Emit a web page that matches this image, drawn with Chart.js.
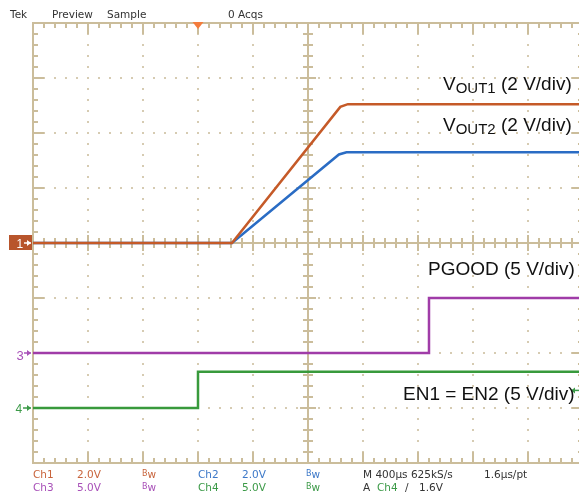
<!DOCTYPE html>
<html>
<head>
<meta charset="utf-8">
<script src="https://cdn.jsdelivr.net/npm/chart.js@4"></script>
<style>
  body { margin: 0; background: #fff; }
  #wrap { position: relative; width: 579px; height: 502px; overflow: hidden; }
  #scope { position: absolute; left: 0; top: 0; }
  .t { position: absolute; white-space: nowrap; line-height: 1; }
  .s { font-family: "DejaVu Sans", sans-serif; font-size: 10.5px; color: #333; }
  .lbl { font-family: "Liberation Sans", Arial, sans-serif; font-size: 19px; color: #111; }
  .lbl sub { font-size: 15px; vertical-align: -3px; line-height: 1; }
  .bw b { font-weight: normal; font-size: 8px; vertical-align: 2px; }
  .c1 { color: #c8643c; } .c2 { color: #3c78c8; } .c3 { color: #a850b8; } .c4 { color: #3c9a48; }
  .mk { font-family: "Liberation Sans", Arial, sans-serif; }
</style>
</head>
<body>
<div id="wrap">
  <canvas id="scope" width="579" height="502"></canvas>

  <!-- header -->
  <div class="t s" style="left:10px;top:9px">Tek</div>
  <div class="t s" style="left:52px;top:9px">Preview</div>
  <div class="t s" style="left:107px;top:9px">Sample</div>
  <div class="t s" style="left:228px;top:9px">0 Acqs</div>

  <!-- trace labels -->
  <div class="t lbl" style="left:443px;top:73.5px">V<sub>OUT1</sub> (2 V/div)</div>
  <div class="t lbl" style="left:443px;top:115px">V<sub>OUT2</sub> (2 V/div)</div>
  <div class="t lbl" style="left:428px;top:259px">PGOOD (5 V/div)</div>
  <div class="t lbl" style="left:403px;top:384px">EN1 = EN2 (5 V/div)</div>

  <!-- channel markers -->
  <div class="t mk" style="left:16.5px;top:238px;font-size:12px;color:#fff">1</div>
  <div class="t mk c3" style="left:16.5px;top:348.5px;font-size:13px">3</div>
  <div class="t mk c4" style="left:15.5px;top:403px;font-size:12px">4</div>

  <!-- status bar -->
  <div class="t s c1" style="left:33px;top:469px">Ch1</div>
  <div class="t s c1" style="left:77px;top:469px">2.0V</div>
  <div class="t s c1 bw" style="left:142px;top:469px"><b>B</b>w</div>
  <div class="t s c2" style="left:198px;top:469px">Ch2</div>
  <div class="t s c2" style="left:242px;top:469px">2.0V</div>
  <div class="t s c2 bw" style="left:306px;top:469px"><b>B</b>w</div>
  <div class="t s" style="left:363px;top:469px">M 400µs 625kS/s</div>
  <div class="t s" style="left:484px;top:469px">1.6µs/pt</div>

  <div class="t s c3" style="left:33px;top:482px">Ch3</div>
  <div class="t s c3" style="left:77px;top:482px">5.0V</div>
  <div class="t s c3 bw" style="left:142px;top:482px"><b>B</b>w</div>
  <div class="t s c4" style="left:198px;top:482px">Ch4</div>
  <div class="t s c4" style="left:242px;top:482px">5.0V</div>
  <div class="t s c4 bw" style="left:306px;top:482px"><b>B</b>w</div>
  <div class="t s" style="left:363px;top:482px">A</div>
  <div class="t s c4" style="left:377px;top:482px">Ch4</div>
  <div class="t s" style="left:405px;top:482px">/</div>
  <div class="t s" style="left:419px;top:482px">1.6V</div>
</div>

<script>
// time base: 400 us per division, screen starts at t = 0 (left graticule edge)
const DIV_US = 400;
const T_VISIBLE = 3971;   // right edge of the photo cuts the last division

// Ch1  VOUT1, 2 V/div, ground at center
const ch1Time  = [0, 1447, 2235, 2290, 3971];
const ch1Volts = [0, 0, 4.95, 5.05, 5.05];

// Ch2  VOUT2, 2 V/div, ground at center
const ch2Time  = [0, 1447, 2225, 2280, 3971];
const ch2Volts = [0, 0, 3.22, 3.3, 3.3];

// Ch3  PGOOD, 5 V/div, ground 2 div below center
const ch3Time  = [0, 2880, 2880, 3971];
const ch3Volts = [0, 0, 5.0, 5.0];

// Ch4  EN1 = EN2, 5 V/div, ground 3 div below center
const ch4Time  = [0, 1200, 1200, 3971];
const ch4Volts = [0, 0, 3.3, 3.3];

const channels = [
    { time: ch1Time, volts: ch1Volts, vPerDiv: 2, offset: 0,  color: '#c55a28' },
    { time: ch2Time, volts: ch2Volts, vPerDiv: 2, offset: 0,  color: '#2a6cc4' },
    { time: ch3Time, volts: ch3Volts, vPerDiv: 5, offset: -2, color: '#a03ca8' },
    { time: ch4Time, volts: ch4Volts, vPerDiv: 5, offset: -3, color: '#389a3c' }
];

const TAN = '#cbbd9b';
const DOT = '#d6cbb2';

// graticule, drawn under the traces
const graticule = {
    id: 'graticule',
    beforeDatasetsDraw(chart) {
        const { ctx, scales: { x, y } } = chart;
        const px = d => x.getPixelForValue((d + 5) * DIV_US);
        const py = d => y.getPixelForValue(d);
        ctx.save();

        // dotted division lines
        ctx.fillStyle = DOT;
        for (let i = -3; i <= 3; i++) {
            if (i === 0) continue;
            for (let k = -25; k <= 25; k++) {
                ctx.fillRect(Math.round(px(k / 5)) - 1, Math.round(py(i)) - 1, 2, 2);
            }
        }
        for (let i = -4; i <= 4; i++) {
            if (i === 0) continue;
            for (let k = -20; k <= 20; k++) {
                ctx.fillRect(Math.round(px(i)) - 1, Math.round(py(k / 5)) - 1, 2, 2);
            }
        }

        ctx.strokeStyle = TAN;
        ctx.lineWidth = 2;
        const line = (x1, y1, x2, y2) => {
            ctx.beginPath(); ctx.moveTo(x1, y1); ctx.lineTo(x2, y2); ctx.stroke();
        };
        const L = px(-5), R = px(5), T = py(4), B = py(-4), CX = px(0), CY = py(0);

        // frame
        line(L, T - 1, L, B + 1);
        line(L - 1, T, R + 1, T);
        line(L - 1, B, R + 1, B);
        line(R, T, R, B);
        // center cross
        line(CX, T, CX, B);
        line(L, CY, R, CY);

        // ticks every 1/5 division
        for (let k = -25; k <= 25; k++) {
            const xx = px(k / 5);
            const major = k % 5 === 0;
            const len = major ? 11 : 5;
            line(xx, T, xx, T + len);
            line(xx, B, xx, B - len);
            const c = major ? 8 : 5;
            line(xx, CY - c, xx, CY + c);
        }
        for (let k = -20; k <= 20; k++) {
            const yy = py(k / 5);
            const major = k % 5 === 0;
            const len = major ? 11 : 5;
            line(L, yy, L + len, yy);
            line(R, yy, R - len, yy);
            const c = major ? 8 : 5;
            line(CX - c, yy, CX + c, yy);
        }
        ctx.restore();
    },
    afterDraw(chart) {
        const { ctx, scales: { x, y } } = chart;
        const py = d => y.getPixelForValue(d);
        ctx.save();

        const arrow = (yy, x1, x2, color) => {
            ctx.strokeStyle = color; ctx.fillStyle = color; ctx.lineWidth = 1.5;
            ctx.beginPath(); ctx.moveTo(x1, yy); ctx.lineTo(x2, yy); ctx.stroke();
            const dir = Math.sign(x2 - x1);
            ctx.beginPath();
            ctx.moveTo(x2, yy);
            ctx.lineTo(x2 - dir * 4, yy - 3);
            ctx.lineTo(x2 - dir * 4, yy + 3);
            ctx.closePath(); ctx.fill();
        };

        // channel 1 ground box
        const g1 = Math.round(py(0));
        ctx.fillStyle = '#b8552c';
        ctx.fillRect(9, g1 - 8, 23, 15);
        arrow(g1, 24, 31, '#ffffff');
        arrow(Math.round(py(-2)), 24, 31, '#a850b8');
        arrow(Math.round(py(-3)), 23, 31, '#3c9a48');

        // trigger position marker
        const tx = x.getPixelForValue(ch4Time[1]);
        const ty = py(4);
        ctx.fillStyle = '#f47c3c';
        ctx.beginPath();
        ctx.moveTo(tx - 5.5, ty - 1);
        ctx.lineTo(tx + 5.5, ty - 1);
        ctx.lineTo(tx, ty + 6);
        ctx.closePath(); ctx.fill();

        // trigger level on Ch4 (1.6 V)
        arrow(py(-3 + 1.6 / 5), 579, 571, '#3c9a48');
        ctx.restore();
    }
};

const datasets = channels.map(ch => ({
    data: ch.time.map((t, i) => ({ x: t, y: ch.volts[i] / ch.vPerDiv + ch.offset })),
    showLine: true,
    borderColor: ch.color,
    borderWidth: 2.5,
    pointRadius: 0,
    tension: 0
}));

new Chart(document.getElementById('scope').getContext('2d'), {
    type: 'scatter',
    data: { datasets: datasets },
    options: {
        responsive: false,
        devicePixelRatio: 1,
        animation: false,
        layout: { padding: { left: 33, top: 23, right: 0, bottom: 39 } },
        plugins: { legend: { display: false }, tooltip: { enabled: false } },
        scales: {
            x: { type: 'linear', min: 0, max: T_VISIBLE, display: false },
            y: { type: 'linear', min: -4, max: 4, display: false }
        }
    },
    plugins: [graticule]
});
</script>
</body>
</html>
